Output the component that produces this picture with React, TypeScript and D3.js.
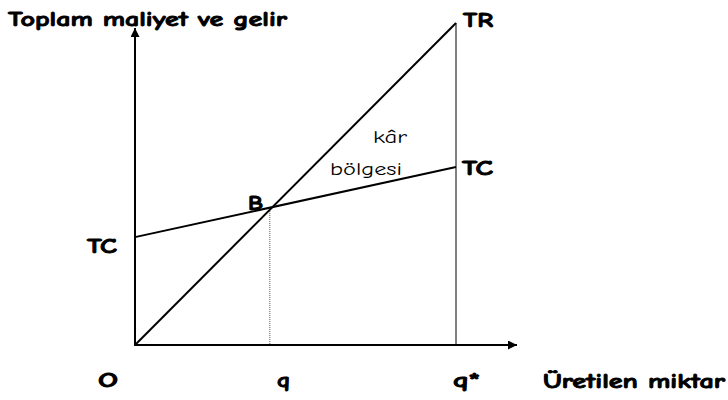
import React from "react";
import * as d3 from "d3";

const quantities = [0, 10];
const totalRevenue = [0, 100];
const totalCost = [33.5, 55.3];
const breakEvenQ = 4.2;
const yAxisTitle = "Toplam maliyet ve gelir";
const xAxisTitle = "Üretilen miktar";
const xTickLabels = ["O", "q", "q*"];

const W = 728;
const H = 400;
const font = "'Comic Sans MS', 'Comic Neue', 'DejaVu Sans', sans-serif";

export default function App() {
  const x = d3.scaleLinear().domain([0, 10]).range([135, 456]);
  const y = d3.scaleLinear().domain([0, 100]).range([345, 23]);
  const line = d3
    .line<[number, number]>()
    .x((d) => x(d[0]))
    .y((d) => y(d[1]));
  const trPts: [number, number][] = quantities.map((q, i) => [q, totalRevenue[i]]);
  const tcPts: [number, number][] = quantities.map((q, i) => [q, totalCost[i]]);
  const trAt = (q: number) => d3.scaleLinear().domain(quantities).range(totalRevenue)(q);
  const tcAt = (q: number) => d3.scaleLinear().domain(quantities).range(totalCost)(q);
  const slopeTR = (totalRevenue[1] - totalRevenue[0]) / (quantities[1] - quantities[0]);
  const slopeTC = (totalCost[1] - totalCost[0]) / (quantities[1] - quantities[0]);
  const qB = (totalCost[0] - totalRevenue[0]) / (slopeTR - slopeTC);
  const yB = trAt(qB);
  const qStar = quantities[1];
  const x0 = x(0);
  const y0 = y(0);
  const bold = {
    fontSize: 21,
    fontWeight: "bold" as const,
    stroke: "#000",
    strokeWidth: 0.9,
    lengthAdjust: "spacingAndGlyphs" as const,
  };

  return (
    <svg
      width={W}
      height={H}
      style={{ position: "absolute", left: 0, top: 0, background: "#fff" }}
      fontFamily={font}
    >
      <defs>
        <marker id="arr" viewBox="0 0 10 10" refX="10" refY="5" markerWidth="9" markerHeight="9" markerUnits="userSpaceOnUse" orient="auto">
          <path d="M0,0 L10,5 L0,10 z" fill="#000" />
        </marker>
      </defs>
      <line x1={x0} y1={y0 + 1} x2={x0} y2={28} stroke="#000" strokeWidth={2} markerEnd="url(#arr)" />
      <line x1={x0 - 1} y1={y0} x2={517} y2={y0} stroke="#000" strokeWidth={2} markerEnd="url(#arr)" />
      <line x1={x(qStar)} y1={y(trAt(qStar))} x2={x(qStar)} y2={y0} stroke="#000" strokeWidth={1} />
      <line x1={x(breakEvenQ)} y1={y(yB)} x2={x(breakEvenQ)} y2={y0} stroke="#555" strokeWidth={1} strokeDasharray="1,1" />
      <path d={line(trPts) || ""} fill="none" stroke="#000" strokeWidth={2} />
      <path d={line(tcPts) || ""} fill="none" stroke="#000" strokeWidth={2} />

      <text x={8} y={26} {...bold} textLength={279}>{yAxisTitle}</text>
      <text x={463} y={27} {...bold} textLength={30}>TR</text>
      <text x={462} y={175} {...bold} textLength={31}>TC</text>
      <text x={87} y={253} {...bold} textLength={30}>TC</text>
      <text x={248} y={210} {...bold} textLength={15}>B</text>
      <text x={373} y={143} fontSize={19} textLength={34} lengthAdjust="spacingAndGlyphs">kâr</text>
      <text x={330} y={175} fontSize={19} textLength={72} lengthAdjust="spacingAndGlyphs">bölgesi</text>
      <text x={98} y={387} {...bold} textLength={20}>{xTickLabels[0]}</text>
      <text x={277} y={387} {...bold} textLength={13}>{xTickLabels[1]}</text>
      <text x={453} y={387} {...bold} textLength={27}>{xTickLabels[2]}</text>
      <text x={543} y={388} {...bold} textLength={182}>{xAxisTitle}</text>
    </svg>
  );
}
